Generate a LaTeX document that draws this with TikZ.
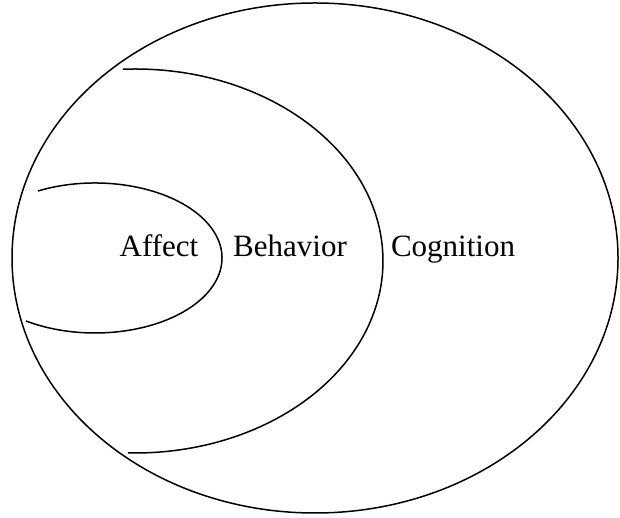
\documentclass[tikz,border=0pt]{standalone}
\usepackage{fontspec}
\setmainfont{Liberation Serif}
\begin{document}
\begin{tikzpicture}[x=1pt,y=1pt,
  ring/.style={line width=1.5pt,black},
  lbl/.style={font=\fontsize{31}{37}\selectfont,anchor=base,inner sep=0pt}]
\useasboundingbox (0,0) rectangle (620,518);
% outer ellipse
\draw[ring] (315,260) ellipse [x radius=303, y radius=255];
% middle arc
\draw[ring] (135,257) ++(92.8:248 and 192) arc[start angle=92.8, end angle=-91.6, x radius=248, y radius=192];
% inner arc
\draw[ring] (95,260) ++(116.7:127 and 75) arc[start angle=116.7, end angle=-122.9, x radius=127, y radius=75];
\node[lbl] (affect) at (159,261) {Affect};
\node[lbl] (behavior) at (290,261) {Behavior};
\node[lbl] (cognition) at (453,261) {Cognition};
\end{tikzpicture}
\end{document}
